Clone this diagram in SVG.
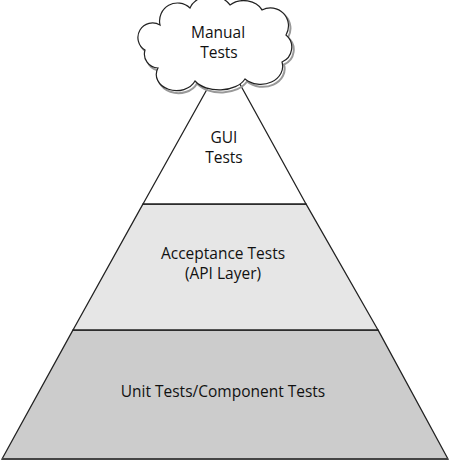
<svg xmlns="http://www.w3.org/2000/svg" width="450" height="460" viewBox="0 0 450 460">
<style>
.layer{stroke:#222;stroke-width:1.3;stroke-linejoin:miter}
.lbl{font-family:"Open Sans","DejaVu Sans",sans-serif;font-size:15.5px;fill:#111;text-anchor:middle}
</style>
<defs>
<path id="cloudShape" d="M160,25 A18,18 0 0 1 190,8 A22,18 0 0 1 230,5 A20,16 0 0 1 262,10 A18,18 0 0 1 286,35 A16,16 0 0 1 282,62 A22,18 0 0 1 245,79 A28,18 0 0 1 195,81 A20,16 0 0 1 158,68 A14,14 0 0 1 145,50 A14,14 0 0 1 160,25 Z"/>
</defs>
<rect width="450" height="460" fill="#fff"/>
<g id="unit-tests">
<polygon class="layer" points="73,330 378,330 448,459 2,459" fill="#cccccc"/>
<line x1="2" y1="459" x2="448" y2="459" stroke="#444" stroke-width="2"/>
<text class="lbl" x="223" y="397">Unit Tests/Component Tests</text>
</g>
<g id="acceptance-tests">
<polygon class="layer" points="143,204 306,204 378,330 73,330" fill="#e6e6e6"/>
<text class="lbl" x="223" y="259">Acceptance Tests</text>
<text class="lbl" x="223" y="279">(API Layer)</text>
</g>
<g id="gui-tests">
<polygon class="layer" points="225,57 306,204 143,204" fill="#ffffff"/>
<text class="lbl" x="224" y="143">GUI</text>
<text class="lbl" x="224" y="163">Tests</text>
</g>
<g id="manual-tests">
<use href="#cloudShape" transform="translate(2,2.5)" fill="none" stroke="#999" stroke-width="2"/>
<use href="#cloudShape" fill="#fff" stroke="#222" stroke-width="1.2"/>
<text class="lbl" x="218" y="38">Manual</text>
<text class="lbl" x="219" y="58">Tests</text>
</g>
<g id="connectors"/>
</svg>
